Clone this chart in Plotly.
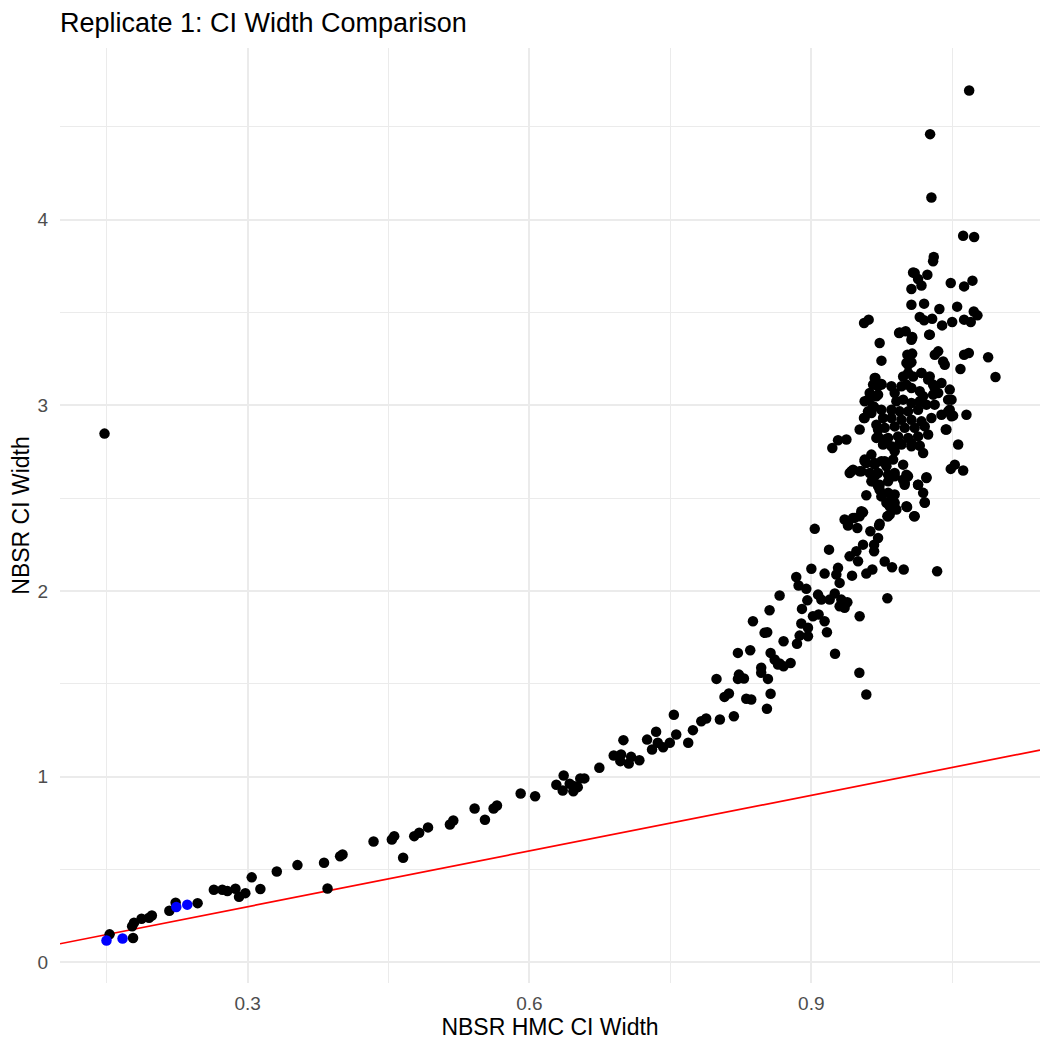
import plotly.graph_objects as go

# NBSR HMC CI width (x) vs NBSR CI width (y), replicate 1
hmc_low = [0.1476, 0.153, 0.178, 0.177, 0.179, 0.187, 0.195, 0.198, 0.2166, 0.2233,
           0.2467, 0.264, 0.273, 0.2784, 0.287, 0.2908, 0.2975, 0.3043, 0.3135, 0.331,
           0.353, 0.3813, 0.385, 0.3984, 0.401, 0.434, 0.4535, 0.456, 0.4655, 0.4773,
           0.4826, 0.492, 0.5153, 0.5189, 0.5416, 0.5526, 0.5618, 0.5654, 0.5906, 0.606,
           0.6286, 0.6364, 0.6354, 0.6428, 0.6467, 0.6514, 0.6541, 0.6584, 0.6478, 0.6744,
           0.6897, 0.6975, 0.700, 0.6968, 0.7082, 0.7057, 0.7170, 0.7252, 0.7348, 0.7305,
           0.7366, 0.7423, 0.7494, 0.7537, 0.7562, 0.769, 0.774, 0.7829, 0.7881, 0.8027]
nbsr_low = [2.848, 0.151, 0.131, 0.195, 0.214, 0.235, 0.240, 0.253, 0.278, 0.321,
            0.319, 0.391, 0.391, 0.384, 0.397, 0.354, 0.373, 0.458, 0.395, 0.490,
            0.524, 0.537, 0.398, 0.572, 0.581, 0.651, 0.662, 0.680, 0.564, 0.680,
            0.698, 0.727, 0.743, 0.764, 0.829, 0.768, 0.829, 0.845, 0.910, 0.895,
            0.957, 1.007, 0.926, 0.962, 0.922, 0.944, 0.991, 0.991, 0.949, 1.048,
            1.114, 1.120, 1.197, 1.084, 1.107, 1.071, 1.089, 1.200, 1.242, 1.147,
            1.183, 1.159, 1.183, 1.334, 1.227, 1.183, 1.251, 1.299, 1.314, 1.308]

hmc_mid = [0.7991, 0.8076, 0.8123, 0.8176, 0.8219, 0.8350, 0.8230, 0.8283, 0.8219, 0.8308,
           0.8361, 0.8467, 0.8467, 0.8539, 0.8567, 0.8528, 0.8567, 0.861, 0.8646, 0.8379,
           0.8503, 0.8531, 0.8663, 0.8705, 0.8663, 0.8705, 0.878, 0.8556, 0.8840, 0.8865,
           0.8947, 0.8901, 0.8958, 0.8894, 0.8965, 0.9018, 0.9078, 0.9142, 0.8876, 0.8965,
           0.8848, 0.9167, 0.9001, 0.9037, 0.9142, 0.9189, 0.9285, 0.9267, 0.9072, 0.9107,
           0.9196, 0.925, 0.9302, 0.9320, 0.9384, 0.9355, 0.9302, 0.9253, 0.9515, 0.9408,
           0.9480, 0.9498, 0.9434, 0.9586, 0.9650, 0.9512, 0.9586, 0.981, 0.9782, 0.9860,
           0.9984, 1.0340, 0.9355, 0.9391, 0.9444, 0.949, 0.9551, 0.9515, 0.9629, 0.9669,
           0.9669, 0.9711, 0.9722, 0.9728, 0.9551, 0.9810, 0.9834, 0.9871, 1.0020, 1.0101,
           1.0208]
nbsr_mid = [1.527, 1.430, 1.448, 1.326, 1.667, 1.681, 1.550, 1.529, 1.527, 1.420,
            1.416, 1.587, 1.560, 1.527, 1.447, 1.366, 1.667, 1.631, 1.604, 1.837,
            1.775, 1.778, 1.976, 1.730, 1.610, 1.595, 1.613, 1.897, 2.076, 2.030,
            2.012, 1.904, 1.950, 1.825, 1.802, 1.864, 1.874, 1.837, 1.760, 1.757,
            1.716, 1.778, 2.120, 2.335, 2.094, 2.223, 2.125, 2.089, 1.981, 1.954,
            1.954, 1.987, 2.044, 1.954, 1.940, 1.910, 1.918, 1.662, 1.864, 2.187,
            2.214, 2.161, 2.083, 2.094, 2.116, 1.560, 1.443, 1.961, 2.159, 2.128,
            2.116, 2.107, 2.385, 2.363, 2.394, 2.340, 2.424, 2.403, 2.322, 2.214,
            2.250, 2.286, 2.353, 2.363, 2.250, 2.403, 2.460, 2.475, 2.453, 2.403,
            2.475]

hmc_high = [0.9224, 0.9285, 0.9374, 0.9515, 0.9561, 0.9604, 0.9669, 0.9611, 0.9693, 0.9669,
            0.9747, 0.9683, 0.9728, 0.9747, 0.9935, 1.0074, 1.0255, 1.0023, 1.0074, 1.0013,
            1.0066, 1.0315, 1.0351, 1.0404, 1.0421, 1.0627, 1.0677, 1.0883, 1.0961, 1.0588,
            1.0652, 1.0432, 1.0564, 1.0485, 1.0528, 1.0617, 1.0226, 1.0137, 1.0191, 1.0208,
            1.0013, 1.0095, 0.9586,
            1.0681, 1.0265, 1.0279, 1.0617, 1.0734, 1.0304, 1.0297, 1.0084, 1.0101, 1.0137,
            1.0236, 1.0173, 1.0066, 1.0485, 1.0627, 1.0716, 1.0066, 1.0201, 1.0364, 1.0553,
            1.0730, 1.0769, 1.0627, 1.0698, 1.0155, 1.0201, 1.0287, 1.0393, 1.0500, 0.9562,
            0.9611, 0.9941, 1.0005, 1.0074, 1.0262]
nbsr_high = [2.771, 2.812, 2.816, 2.870, 2.932, 2.968, 2.992, 3.027, 3.049, 3.112,
             3.115, 3.148, 3.336, 3.241, 3.390, 3.363, 3.381, 3.273, 3.279, 3.229,
             3.232, 3.273, 3.291, 3.237, 3.219, 3.273, 3.282, 3.259, 3.153, 3.196,
             2.950, 2.870, 2.789, 2.658, 2.681, 2.649, 2.613, 2.573, 2.529, 2.478,
             2.457, 2.403, 2.516,
             4.696, 4.461, 4.120, 3.914, 3.907, 3.799, 3.776, 3.716, 3.713, 3.681,
             3.704, 3.646, 3.627, 3.659, 3.641, 3.672, 3.542, 3.548, 3.519, 3.532,
             3.506, 3.485, 3.462, 3.449, 3.476, 3.458, 3.467, 3.431, 3.449, 3.444,
             3.462, 3.393, 3.399, 3.368, 3.381]

# dense core of the upper cluster
hmc_core = [1.0066, 1.0031, 0.9675, 0.9658, 0.9746, 0.9978, 1.0031, 1.0084, 1.0173, 1.0261,
            0.9960, 1.0013, 1.0066, 0.9853, 0.9888, 1.0155, 1.0191, 1.0297, 1.0386, 1.0474,
            1.0351, 0.9711, 0.9605, 0.9658, 0.9906, 0.9978, 1.0066, 1.0155, 1.0226, 1.0314,
            1.0457, 1.0474, 0.9853, 0.9941, 1.0031, 1.0137, 0.9568, 0.9640, 0.9764, 0.9853,
            0.9960, 1.0066, 1.0173, 1.0279, 1.0386, 1.0493, 0.9693, 0.9782, 0.9888, 0.9995,
            1.0101, 1.0208, 0.9711, 0.9818, 0.9924, 1.0031, 1.0137, 1.0244, 1.0439, 0.9764,
            0.9853, 0.9960, 1.0066, 1.0155, 0.9941, 1.0066, 1.0191, 0.9888, 0.9640, 0.9568,
            0.9675, 0.9782, 0.9871, 0.9978, 0.9427, 0.9515, 0.9622, 0.9711, 0.9818, 0.9888,
            1.0013, 0.9658, 0.9728, 0.9818, 0.9995, 1.0137, 1.0226, 0.9728, 0.9818, 0.9888,
            0.9835, 0.9853, 0.9888, 0.9818, 0.9533, 0.9462, 0.9391]
nbsr_core = [3.354, 3.219, 3.148, 3.112, 3.112, 3.156, 3.175, 3.156, 3.175, 3.156,
             3.103, 3.112, 3.094, 3.103, 3.067, 3.076, 3.049, 3.112, 3.121, 3.085,
             3.067, 3.058, 3.031, 2.995, 3.022, 3.031, 3.013, 3.022, 3.004, 3.004,
             3.031, 2.977, 2.977, 2.968, 2.968, 2.977, 2.932, 2.959, 2.932, 2.932,
             2.923, 2.923, 2.914, 2.932, 2.950, 2.941, 2.896, 2.879, 2.887, 2.879,
             2.879, 2.887, 2.833, 2.825, 2.833, 2.825, 2.833, 2.843, 2.870, 2.789,
             2.780, 2.789, 2.780, 2.783, 2.798, 2.798, 2.744, 2.753, 2.735, 2.699,
             2.690, 2.699, 2.708, 2.681, 2.645, 2.645, 2.636, 2.636, 2.627, 2.618,
             2.627, 2.591, 2.573, 2.591, 2.582, 2.573, 2.609, 2.546, 2.529, 2.520,
             2.483, 2.457, 2.475, 2.403, 2.430, 2.394, 2.353]

hmc_extra = [0.9409, 0.9445, 0.9533, 0.9586, 0.9568, 0.9675, 0.9746, 0.9800, 0.9853, 0.9888,
             0.9977, 0.9994, 1.0030, 0.9746, 0.9800, 0.9835, 0.9906, 0.9835, 0.9675, 0.9711,
             0.9640, 0.9568, 0.9622, 0.9711, 0.9746, 0.9711, 0.9693, 0.9782,
             1.0314, 1.0493, 1.0457, 1.0510, 1.0297, 1.0244, 1.0173]
nbsr_extra = [2.636, 2.654, 2.645, 2.690, 2.708, 2.681, 2.699, 2.672, 2.618, 2.636,
              2.600, 2.573, 2.618, 2.510, 2.475, 2.457, 2.439, 2.412, 2.618, 2.564,
              2.591, 3.022, 3.067, 3.103, 2.977, 2.870, 2.825, 2.816,
              3.094, 3.031, 2.968, 2.945, 3.058, 3.139, 3.175]

# highlighted genes (blue)
hmc_blue = [0.1497, 0.1668, 0.224, 0.2357]
nbsr_blue = [0.118, 0.129, 0.298, 0.311]

x_range = [0.1002, 1.1435]
y_range = [-0.111, 4.925]

hmc_black = hmc_low + hmc_mid + hmc_high + hmc_core + hmc_extra
nbsr_black = nbsr_low + nbsr_mid + nbsr_high + nbsr_core + nbsr_extra

FONT = "Liberation Sans, Arial, sans-serif"

fig = go.Figure()
# identity line y = x
fig.add_trace(go.Scatter(x=x_range, y=x_range, mode="lines",
                         line=dict(color="#ff0000", width=1.7), hoverinfo="skip"))
fig.add_trace(go.Scatter(x=hmc_black, y=nbsr_black, mode="markers",
                         marker=dict(color="black", size=10.5, line=dict(width=0))))
fig.add_trace(go.Scatter(x=hmc_blue, y=nbsr_blue, mode="markers",
                         marker=dict(color="#0000ff", size=10.5, line=dict(width=0))))

# the page body adds an 8px margin, so the figure is a bit smaller than the window
grid = "#ebebeb"
fig.update_layout(
    width=1034, height=1034,
    showlegend=False,
    plot_bgcolor="white", paper_bgcolor="white",
    margin=dict(l=52, r=2, t=40, b=59),
    font=dict(family=FONT, color="black"),
    title=dict(text="Replicate 1: CI Width Comparison", x=0.0503, xanchor="left",
               y=0.9858, yanchor="middle", font=dict(size=27, color="black")),
    xaxis=dict(
        range=x_range, tickvals=[0.3, 0.6, 0.9], ticktext=["0.3", "0.6", "0.9"],
        showgrid=True, gridcolor=grid, gridwidth=2, zeroline=False, showline=False,
        ticks="outside", ticklen=3, tickcolor="rgba(0,0,0,0)",
        tickfont=dict(size=19, color="#4d4d4d"), automargin=False,
        minor=dict(tickvals=[0.15, 0.45, 0.75, 1.05], showgrid=True,
                   gridcolor=grid, gridwidth=1),
        title=dict(text="NBSR HMC CI Width", font=dict(size=23), standoff=4),
    ),
    yaxis=dict(
        range=y_range, tickvals=[0, 1, 2, 3, 4], ticktext=["0", "1", "2", "3", "4"],
        showgrid=True, gridcolor=grid, gridwidth=2, zeroline=False, showline=False,
        ticks="outside", ticklen=7, tickcolor="rgba(0,0,0,0)",
        tickfont=dict(size=19, color="#4d4d4d"), automargin=False,
        minor=dict(tickvals=[0.5, 1.5, 2.5, 3.5, 4.5], showgrid=True,
                   gridcolor=grid, gridwidth=1),
        title=dict(text="NBSR CI Width", font=dict(size=23), standoff=2),
    ),
)

fig.write_html("out.html")
